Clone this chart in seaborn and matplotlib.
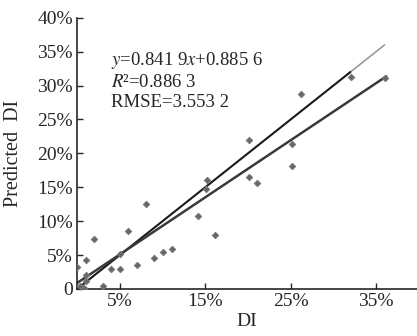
import numpy as np
import pandas as pd
import seaborn as sns
import matplotlib.pyplot as plt
from matplotlib.ticker import FuncFormatter

# measured DI vs predicted DI (%)
di = [0.0, 0.3, 1.0, 1.0, 1.0, 0.8, 2.0, 3.0, 4.0, 5.0, 5.0, 6.0, 7.0, 8.1, 9.0,
      10.0, 11.1, 14.1, 15.1, 15.2, 16.1, 20.1, 20.1, 21.1, 25.2, 25.2, 26.2, 32.1, 36.1]
pred = [3.3, 0.4, 4.3, 2.0, 1.2, 0.1, 7.3, 0.5, 2.9, 2.9, 5.1, 8.6, 3.6, 12.5, 4.6,
        5.5, 5.9, 10.7, 14.7, 16.0, 7.9, 22.0, 16.5, 15.7, 21.4, 18.2, 28.7, 31.2, 31.1]
slope, intercept = 0.8419, 0.8856
fit_x = [0.0, 36.2]
one_x_dark = [0.0, 32.0]
one_x_light = [31.5, 36.0]

df = pd.DataFrame({'DI': di, 'Pred': pred})
fit = pd.DataFrame({'x': fit_x, 'y': [slope * v + intercept for v in fit_x]})

sns.set_style('ticks')
plt.rcParams['font.family'] = ['Liberation Serif', 'DejaVu Serif']
plt.rcParams['mathtext.fontset'] = 'stix'

fig = plt.figure(figsize=(4.17, 3.36), dpi=100)
ax = fig.add_axes([0.185, 0.14, 0.815, 0.807])

ax.plot(one_x_light, one_x_light, color='#999999', lw=1.2)
ax.plot(one_x_dark, one_x_dark, color='#1a1a1a', lw=1.5)
sns.lineplot(data=fit, x='x', y='y', color='#3a3a3a', lw=1.8, ax=ax)
sns.scatterplot(data=df, x='DI', y='Pred', color='#666666', marker='D', s=10,
                edgecolor='#777777', linewidth=0.8, ax=ax, zorder=3)

ax.set_xlim(0, 39.8)
ax.set_ylim(0, 40)
ax.set_xticks([5, 15, 25, 35])
ax.set_yticks(range(0, 41, 5))
ax.xaxis.set_major_formatter(FuncFormatter(lambda v, p: f'{v:g}%'))
ax.yaxis.set_major_formatter(FuncFormatter(lambda v, p: '0' if v == 0 else f'{v:g}%'))
ax.tick_params(direction='in', length=4, width=1, labelsize=14, pad=3)
for s in ['top', 'right']:
    ax.spines[s].set_visible(False)
for s in ['left', 'bottom']:
    ax.spines[s].set_linewidth(1.2)

ax.set_xlabel('DI', fontsize=14, labelpad=2)
ax.set_ylabel('Predicted  DI', fontsize=14.5, labelpad=10)

ax.text(4.0, 33.0, r'$y$=0.841 9$x$+0.885 6', fontsize=13.5)
ax.text(4.0, 29.8, r'$R$' + '²=0.886 3', fontsize=13.5)
ax.text(4.0, 26.9, 'RMSE=3.553 2', fontsize=13.5)

fig.savefig('out.png', dpi=100)
